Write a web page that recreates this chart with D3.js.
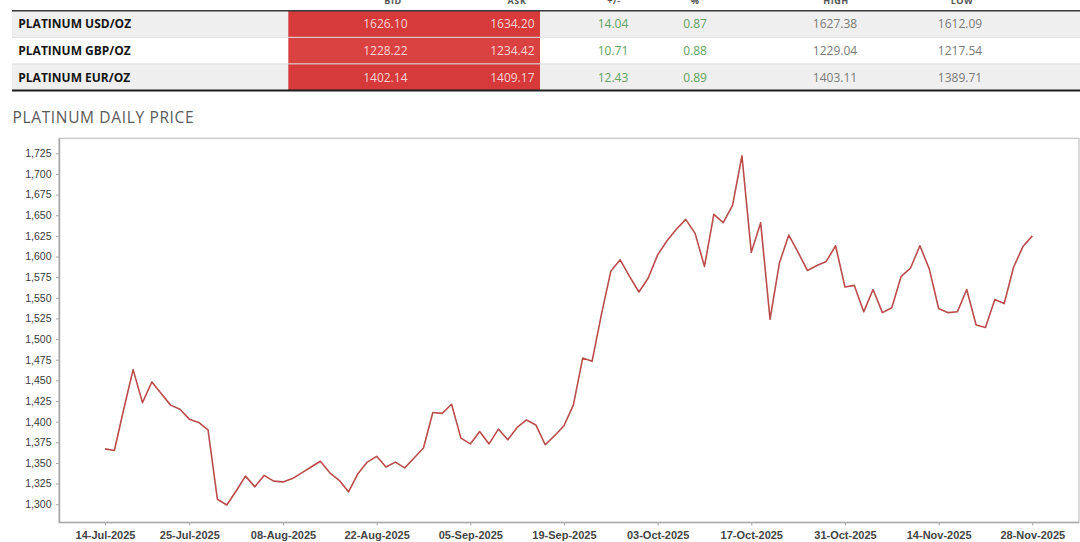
<!DOCTYPE html>
<html>
<head>
<meta charset="utf-8">
<script src="https://cdn.jsdelivr.net/npm/d3@7/dist/d3.min.js"></script>
<style>
  html, body { margin: 0; padding: 0; background: #fff; }
  svg { display: block; }
</style>
</head>
<body>
<svg id="chart" width="1080" height="542"></svg>
<script>
// ---------------- DATA ----------------
const tableHeaders = ["BID", "ASK", "+/-", "%", "HIGH", "LOW"];
const tableRows = ["PLATINUM USD/OZ", "PLATINUM GBP/OZ", "PLATINUM EUR/OZ"];
const bidValues = ["1626.10", "1228.22", "1402.14"];
const askValues = ["1634.20", "1234.42", "1409.17"];
const changeValues = ["14.04", "10.71", "12.43"];
const pctValues = ["0.87", "0.88", "0.89"];
const highValues = ["1627.38", "1229.04", "1403.11"];
const lowValues = ["1612.09", "1217.54", "1389.71"];

const chartTitle = "PLATINUM DAILY PRICE";

// trading days (weekdays) 14-Jul-2025 .. 28-Nov-2025
const fmtDate = d3.utcFormat("%d-%b-%Y");
const dates = d3.utcDay.range(new Date(Date.UTC(2025, 6, 14)), new Date(Date.UTC(2025, 10, 29)))
  .filter(d => d.getUTCDay() !== 0 && d.getUTCDay() !== 6)
  .map(fmtDate);

const prices = [
  1367, 1365, 1415, 1463, 1423, 1448, 1434, 1420, 1415, 1403,
  1399, 1390, 1306, 1299, 1316, 1334, 1321, 1335, 1328, 1327,
  1331, 1338, 1345, 1352, 1338, 1329, 1315, 1337, 1351, 1358,
  1345, 1351, 1344, 1356, 1368, 1411, 1410, 1421, 1380, 1373,
  1388, 1373, 1391, 1378, 1393, 1402, 1396, 1372, 1383, 1395,
  1420, 1477, 1473, 1530, 1582, 1596, 1576, 1557, 1574, 1602,
  1619, 1633, 1645, 1628, 1588, 1651, 1641, 1662, 1722, 1605,
  1641, 1524, 1592, 1626, 1605, 1583, 1589, 1594, 1613, 1563,
  1565, 1533, 1560, 1532, 1538, 1576, 1586, 1613, 1585, 1537,
  1532, 1533, 1560, 1517, 1514, 1548, 1543, 1587, 1612, 1625
];

const xTickLabels = ["14-Jul-2025", "25-Jul-2025", "08-Aug-2025", "22-Aug-2025", "05-Sep-2025",
  "19-Sep-2025", "03-Oct-2025", "17-Oct-2025", "31-Oct-2025", "14-Nov-2025", "28-Nov-2025"];
const yTickValues = [1300, 1325, 1350, 1375, 1400, 1425, 1450, 1475, 1500, 1525, 1550, 1575,
  1600, 1625, 1650, 1675, 1700, 1725];

// ---------------- LAYOUT ----------------
const svg = d3.select("#chart");
const tableFont = "'Open Sans', 'Noto Sans', sans-serif";
const chartFont = "'Liberation Sans', Arial, sans-serif";

const T = { left: 12, top: 10.7, rowH: 26.6, right: 1080, redL: 288.3, redR: 540 };

// ---------------- TABLE ----------------
const headerX = [393, 517, 614, 695, 836, 962];
svg.append("g").selectAll("text").data(tableHeaders).join("text")
  .attr("x", (d, i) => headerX[i]).attr("y", 4.2)
  .attr("text-anchor", "middle")
  .attr("font-family", tableFont).attr("font-size", 9).attr("font-weight", 700)
  .attr("letter-spacing", 0.6)
  .attr("fill", "#555").text(d => d);

const rowsG = svg.append("g");
tableRows.forEach((name, i) => {
  const y0 = T.top + i * T.rowH;
  const cy = y0 + T.rowH / 2;
  rowsG.append("rect").attr("x", T.left).attr("y", y0).attr("width", T.right - T.left).attr("height", T.rowH)
    .attr("fill", i === 1 ? "#ffffff" : "#efefef");
  rowsG.append("rect").attr("x", T.redL).attr("y", y0).attr("width", T.redR - T.redL).attr("height", T.rowH)
    .attr("fill", i === 1 ? "#da4141" : "#d63a3a");
  if (i > 0) {
    rowsG.append("line").attr("x1", T.left).attr("x2", T.right).attr("y1", y0).attr("y2", y0)
      .attr("stroke", "#dcdcdc").attr("stroke-width", 1);
  }
  const base = cy + 4.3;
  rowsG.append("text").attr("x", 18.3).attr("y", base)
    .attr("font-family", tableFont).attr("font-size", 12).attr("font-weight", 700)
    .attr("fill", "#151515").text(name);
  rowsG.append("text").attr("x", 407.5).attr("y", base).attr("text-anchor", "end")
    .attr("font-family", tableFont).attr("font-size", 12).attr("fill", "#f6d3d3").text(bidValues[i]);
  rowsG.append("text").attr("x", 534.5).attr("y", base).attr("text-anchor", "end")
    .attr("font-family", tableFont).attr("font-size", 12).attr("fill", "#f6d3d3").text(askValues[i]);
  rowsG.append("text").attr("x", 613).attr("y", base).attr("text-anchor", "middle")
    .attr("font-family", tableFont).attr("font-size", 12).attr("fill", "#62a262").text(changeValues[i]);
  rowsG.append("text").attr("x", 695).attr("y", base).attr("text-anchor", "middle")
    .attr("font-family", tableFont).attr("font-size", 12).attr("fill", "#62a262").text(pctValues[i]);
  rowsG.append("text").attr("x", 835).attr("y", base).attr("text-anchor", "middle")
    .attr("font-family", tableFont).attr("font-size", 12).attr("fill", "#7a7a7a").text(highValues[i]);
  rowsG.append("text").attr("x", 960).attr("y", base).attr("text-anchor", "middle")
    .attr("font-family", tableFont).attr("font-size", 12).attr("fill", "#7a7a7a").text(lowValues[i]);
});
svg.append("line").attr("x1", T.left).attr("x2", T.right).attr("y1", T.top).attr("y2", T.top)
  .attr("stroke", "#3a3a3a").attr("stroke-width", 1.4);
const tBottom = T.top + 3 * T.rowH;
svg.append("line").attr("x1", T.left).attr("x2", T.right).attr("y1", tBottom).attr("y2", tBottom)
  .attr("stroke", "#1e1e1e").attr("stroke-width", 2);

// ---------------- TITLE ----------------
svg.append("text").attr("x", 12.5).attr("y", 122.5)
  .attr("font-family", "'Open Sans', 'Noto Sans', sans-serif").attr("font-size", 15.5)
  .attr("font-weight", 400).attr("fill", "#5a5a5a").attr("letter-spacing", 0.65)
  .text(chartTitle);

// ---------------- CHART ----------------
const box = { left: 59, top: 138.3, right: 1079, bottom: 522.5 };
const x = d3.scalePoint().domain(dates).range([105, 1032.3]);
const [mn, mx] = d3.extent(prices);
const pad = (mx - mn) * 0.05;
const y = d3.scaleLinear().domain([mn - pad, mx + pad]).range([box.bottom, box.top]);

// frame
svg.append("rect").attr("x", box.left).attr("y", box.top)
  .attr("width", box.right - box.left).attr("height", box.bottom - box.top)
  .attr("fill", "none").attr("stroke", "#c4c4c4").attr("stroke-width", 1.2);

// y axis
const yAxis = svg.append("g").attr("transform", `translate(${box.left},0)`)
  .call(d3.axisLeft(y).tickValues(yTickValues).tickFormat(d3.format(",")).tickSize(3).tickSizeOuter(0));
yAxis.select(".domain").attr("stroke", "#a8a8a8").attr("stroke-width", 1.5);
yAxis.selectAll(".tick line").attr("stroke", "#a8a8a8");
yAxis.selectAll(".tick text").attr("font-family", chartFont).attr("font-size", 10.5)
  .attr("fill", "#3a3a3a").attr("x", -7.5);

// x axis
const xAxis = svg.append("g").attr("transform", `translate(0,${box.bottom})`)
  .call(d3.axisBottom(x).tickValues(xTickLabels).tickSize(3).tickSizeOuter(0));
xAxis.select(".domain").attr("stroke", "#a8a8a8").attr("stroke-width", 1.5)
  .attr("d", `M${box.left},0H${box.right}`);
xAxis.selectAll(".tick line").attr("stroke", "#a8a8a8");
xAxis.selectAll(".tick text").attr("font-family", chartFont).attr("font-size", 11)
  .attr("font-weight", 700).attr("fill", "#444").attr("y", 8.5);

// line
const line = d3.line().x((d, i) => x(dates[i])).y(d => y(d));
svg.append("path").datum(prices)
  .attr("d", line)
  .attr("fill", "none")
  .attr("stroke", "#bb4c4c")
  .attr("stroke-width", 1.6)
  .attr("stroke-linejoin", "round");
</script>
</body>
</html>
